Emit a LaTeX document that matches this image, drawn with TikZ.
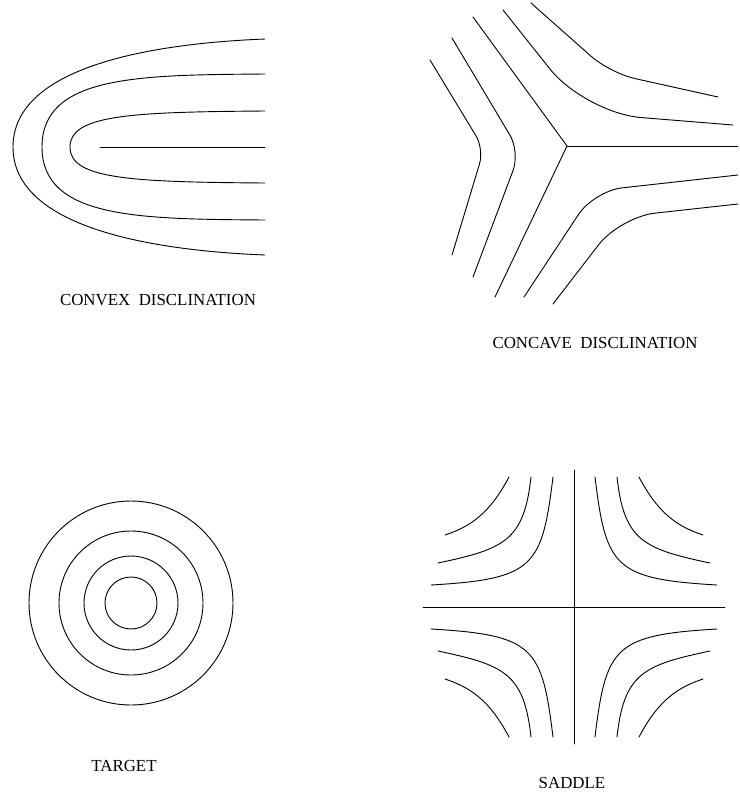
\documentclass[tikz,border=0pt]{standalone}
\usepackage{fontspec}
\setmainfont{Liberation Serif}
\usetikzlibrary{calc}
\tikzset{
  dfield/.style={black, line width=0.65pt, line cap=round},
  dcap/.style={font=\fontsize{12}{14}\selectfont, anchor=base, inner sep=0pt},
}

\begin{document}
\begin{tikzpicture}[x=0.025cm,y=-0.025cm]
  \useasboundingbox (0,0) rectangle (739,798);

  % convexa
  \draw[dfield] (265,39) .. controls (140,44) and (13,70) .. (13,147)
                         .. controls (13,224) and (140,250) .. (265,255);
  \draw[dfield] (265,74) .. controls (140,75) and (42,75) .. (42,147)
                         .. controls (42,219) and (140,219) .. (265,220);
  \draw[dfield] (265,111) .. controls (130,112) and (70,115) .. (70,147)
                          .. controls (70,179) and (130,182) .. (265,183);
  \draw[dfield] (100,147) -- (265,147);
  \node[dcap] (lconvex) at (158,305) {CONVEX~~DISCLINATION};

  % concava
  \coordinate (V) at (567,146);
  \draw[dfield] (473,17) -- (V) -- (495,297);
  \draw[dfield] (V) -- (738,146);
  \draw[dfield, rounded corners=40pt] (503,10) -- (585,113) -- (733,125);
  \draw[dfield, rounded corners=18pt] (531,3) -- (610,73) -- (718,97);
  \draw[dfield, rounded corners=20pt] (738,175) -- (594,191) -- (524,297);
  \draw[dfield, rounded corners=25pt] (738,204) -- (620,217) -- (553,304);
  \draw[dfield, rounded corners=14pt] (452,38) -- (520,152) -- (473,277);
  \draw[dfield, rounded corners=11pt] (430,60) -- (484,149) -- (452,255);
  \node[dcap] (lconcave) at (595,348) {CONCAVE~~DISCLINATION};

  % alvo
  \coordinate (T) at (131,603);
  \foreach \r in {26,47,72,102}
    \draw[dfield] (T) circle[radius=\r];
  \node[dcap] (ltarget) at (124,771) {TARGET};

  % sela
  \coordinate (S) at (574,607);
  \draw[dfield] (423,607) -- (725,607);
  \draw[dfield] (574,470) -- (574,744);
  \foreach \sx/\sy in {1/1,1/-1,-1/1,-1/-1}{
    \begin{scope}[shift={(S)}, xscale=\sx, yscale=\sy]
      \draw[dfield] (-143,22) .. controls (-40,28) and (-32,40) .. (-21,130);
      \draw[dfield] (-136,44) .. controls (-70,58) and (-50,66) .. (-43,130);
      \draw[dfield] (-129,72) .. controls (-105,80) and (-85,92) .. (-65,130);
    \end{scope}
  }
  \node[dcap] (lsaddle) at (572,788) {SADDLE};

\end{tikzpicture}
\end{document}
